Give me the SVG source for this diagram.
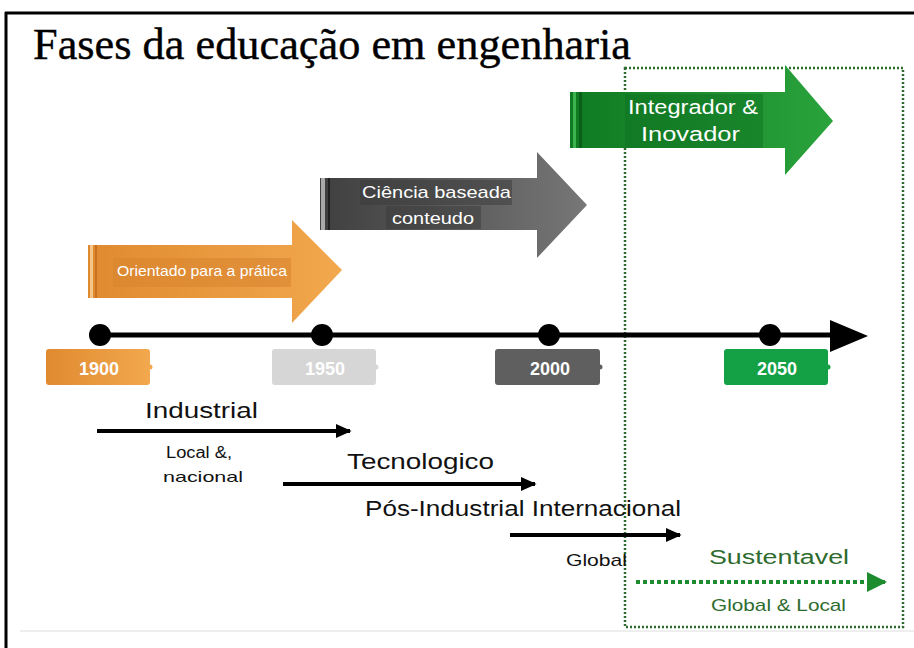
<svg xmlns="http://www.w3.org/2000/svg" width="914" height="648" viewBox="0 0 914 648">
<defs>
<style>
.sans{font-family:"Liberation Sans",Arial,sans-serif;}
.lbl{font-family:"Liberation Sans",Arial,sans-serif;fill:#111;}
.yr{font-family:"Liberation Sans",Arial,sans-serif;font-weight:bold;font-size:18px;fill:#fff;text-anchor:middle;}
.tl{stroke:#000;stroke-width:4;fill:none;}
</style>
<linearGradient id="gOr" x1="0" x2="1" y1="0" y2="0"><stop offset="0" stop-color="#e08a30"/><stop offset="1" stop-color="#f2a84e"/></linearGradient>
<linearGradient id="gGr" x1="0" x2="1" y1="0" y2="0"><stop offset="0" stop-color="#3f3f3f"/><stop offset="1" stop-color="#777"/></linearGradient>
<linearGradient id="gGn" x1="0" x2="1" y1="0" y2="0"><stop offset="0" stop-color="#0f7a22"/><stop offset="1" stop-color="#2aa33c"/></linearGradient>
<marker id="ah" viewBox="0 0 10 10" refX="9" refY="5" markerWidth="4" markerHeight="4" orient="auto" markerUnits="strokeWidth"><path d="M0,0.5 L10,5 L0,9.5 z" fill="#000"/></marker>
<marker id="ahg" viewBox="0 0 10 10" refX="9" refY="5" markerWidth="5" markerHeight="5" orient="auto" markerUnits="strokeWidth"><path d="M0,0 L10,5 L0,10 z" fill="#1e8c2e"/></marker>
</defs>
<rect x="0" y="0" width="914" height="648" fill="#fff"/>
<!-- frame -->
<line x1="5" y1="13" x2="914" y2="13" stroke="#000" stroke-width="3"/>
<line x1="6" y1="12" x2="6" y2="648" stroke="#000" stroke-width="3"/>
<line x1="20" y1="631" x2="914" y2="631" stroke="#eee" stroke-width="2"/>
<text x="33" y="59" font-family="'Liberation Serif','Times New Roman',serif" font-size="44" fill="#000" stroke="#000" stroke-width="0.4" textLength="598" lengthAdjust="spacingAndGlyphs">Fases da educação em engenharia</text>
<!-- dotted green region -->
<rect x="625" y="68" width="278" height="559" fill="none" stroke="#2e6b2e" stroke-width="2.5" stroke-dasharray="2 2"/>
<!-- phase arrows -->
<g id="phase-orange">
<path d="M88,245 H292 V220 L342,270 L292,323 V298 H88 z" fill="url(#gOr)"/>
<rect x="90" y="245" width="3" height="53" fill="#f6c58a"/>
<rect x="95" y="245" width="2" height="53" fill="#c8721f"/>
<rect x="113" y="258" width="178" height="29" fill="#d98530" opacity="0.6"/>
<text x="117" y="276" class="sans" font-size="15" fill="#fff" textLength="170" lengthAdjust="spacingAndGlyphs">Orientado para a prática</text>
</g>
<g id="phase-gray">
<path d="M320,178 H537 V152 L587,205 L537,258 V230 H320 z" fill="url(#gGr)"/>
<rect x="321" y="178" width="4" height="52" fill="#aaa"/>
<rect x="328" y="178" width="2" height="52" fill="#222"/>
<rect x="360" y="180" width="152" height="25" fill="#3a3a3a" opacity="0.5"/>
<rect x="386" y="206" width="95" height="23" fill="#3a3a3a" opacity="0.5"/>
<text x="362" y="198" class="sans" font-size="17" fill="#fff" textLength="149" lengthAdjust="spacingAndGlyphs">Ciência baseada</text>
<text x="392" y="224" class="sans" font-size="17" fill="#fff" textLength="82" lengthAdjust="spacingAndGlyphs">conteudo</text>
</g>
<g id="phase-green">
<path d="M570,92 H785 V65 L833,121 L785,175 V148 H570 z" fill="url(#gGn)"/>
<rect x="573" y="92" width="3" height="56" fill="#3cb34c"/>
<rect x="579" y="92" width="3" height="56" fill="#0a5f18"/>
<rect x="625" y="94" width="138" height="54" fill="#0d6e1e" opacity="0.45"/>
<text x="628" y="114" class="sans" font-size="20" fill="#fff" textLength="130" lengthAdjust="spacingAndGlyphs">Integrador &amp;</text>
<text x="641" y="141" class="sans" font-size="20" fill="#fff" textLength="99" lengthAdjust="spacingAndGlyphs">Inovador</text>
</g>
<!-- timeline -->
<g id="timeline">
<line x1="97" y1="335" x2="835" y2="335" stroke="#000" stroke-width="5"/>
<path d="M830,320 L868,336 L830,352 z" fill="#000"/>
<circle cx="100" cy="335" r="11" fill="#000"/>
<circle cx="322" cy="335" r="11" fill="#000"/>
<circle cx="549" cy="335" r="11" fill="#000"/>
<circle cx="770" cy="335" r="11" fill="#000"/>
</g>
<g id="y1900"><rect x="46" y="349" width="104" height="36" rx="3" fill="url(#gOr)"/><circle cx="150" cy="367" r="2.5" fill="#f2a84e"/><text x="99" y="375" class="yr">1900</text></g>
<g id="y1950"><rect x="272" y="349" width="104" height="36" rx="3" fill="#d6d6d6"/><circle cx="376" cy="367" r="2.5" fill="#d6d6d6"/><text x="325" y="375" class="yr">1950</text></g>
<g id="y2000"><rect x="495" y="349" width="105" height="36" rx="3" fill="#5f5f5f"/><circle cx="600" cy="367" r="2.5" fill="#5f5f5f"/><text x="550" y="375" class="yr">2000</text></g>
<g id="y2050"><rect x="724" y="349" width="104" height="36" rx="3" fill="#14a146"/><circle cx="828" cy="367" r="2.5" fill="#14a146"/><text x="777" y="375" class="yr">2050</text></g>
<!-- eras -->
<g id="connectors">
<line x1="97" y1="431" x2="350" y2="431" class="tl" marker-end="url(#ah)"/>
<line x1="283" y1="484" x2="535" y2="484" class="tl" marker-end="url(#ah)"/>
<line x1="510" y1="535" x2="680" y2="535" class="tl" marker-end="url(#ah)"/>
<line x1="636" y1="582" x2="885" y2="582" stroke="#1e8c2e" stroke-width="4" stroke-dasharray="4 3" marker-end="url(#ahg)"/>
</g>
<g id="era-industrial">
<text x="145" y="418" class="lbl" font-size="22" textLength="113" lengthAdjust="spacingAndGlyphs">Industrial</text>
<text x="166" y="458" class="lbl" font-size="16" textLength="66" lengthAdjust="spacingAndGlyphs">Local &amp;,</text>
<text x="163" y="482" class="lbl" font-size="15" textLength="80" lengthAdjust="spacingAndGlyphs">nacional</text>
</g>
<g id="era-tecnologico"><text x="347" y="469" class="lbl" font-size="22" textLength="147" lengthAdjust="spacingAndGlyphs">Tecnologico</text></g>
<g id="era-pos"><text x="365" y="516" class="lbl" font-size="22" textLength="316" lengthAdjust="spacingAndGlyphs">Pós-Industrial Internacional</text>
<text x="566" y="566" class="lbl" font-size="17" textLength="61" lengthAdjust="spacingAndGlyphs">Global</text></g>
<g id="era-sust"><text x="709" y="564" class="sans" font-size="20" fill="#2e6b2e" textLength="140" lengthAdjust="spacingAndGlyphs">Sustentavel</text>
<text x="711" y="611" class="sans" font-size="17" fill="#2e6b2e" textLength="135" lengthAdjust="spacingAndGlyphs">Global &amp; Local</text></g>
</svg>
